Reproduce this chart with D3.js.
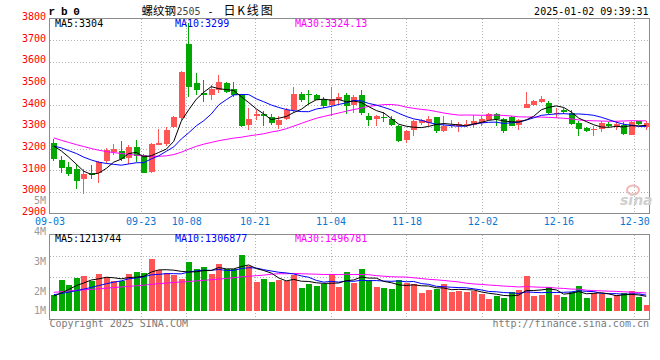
<!DOCTYPE html>
<html><head><meta charset="utf-8">
<script src="https://cdn.jsdelivr.net/npm/d3@7"></script>
<style>
body{margin:0;background:#fff}
svg{display:block}
text{font-family:"DejaVu Sans Mono","Liberation Mono",monospace}
</style>
</head><body>
<svg id="c" width="660" height="360"></svg>
<script>
const dates = ["09-03","09-04","09-05","09-06","09-09","09-10","09-11","09-12","09-13","09-18","09-19","09-20","09-23","09-24","09-25","09-26","09-27","09-30",
"10-08","10-09","10-10","10-11","10-14","10-15","10-16","10-17","10-18","10-21","10-22","10-23","10-24","10-25","10-28","10-29","10-30","10-31",
"11-01","11-04","11-05","11-06","11-07","11-08","11-11","11-12","11-13","11-14","11-15","11-18","11-19","11-20","11-21","11-22","11-25","11-26","11-27","11-28","11-29",
"12-02","12-03","12-04","12-05","12-06","12-09","12-10","12-11","12-12","12-13","12-16","12-17","12-18","12-19","12-20","12-23","12-24","12-25","12-26","12-27","12-30","12-31",
"01-02"];
const open  = [3226,3145,3115,3104,3058,3089,3086,3142,3186,3188,3157,3208,3168,3092,3217,3219,3300,3341,3681,3501,
3455,3445,3471,3504,3474,3449,3310,3348,3361,3345,3307,3336,3379,3451,3452,3448,3428,3403,3422,3448,
3402,3448,3351,3336,3345,3336,3306,3241,3284,3318,3318,3344,3280,3303,3306,3312,3310,3318,3333,3357,
3338,3344,3310,3387,3403,3413,3409,3362,3379,3364,3318,3293,3287,3290,3313,3299,3309,3264,3329,3300];
const high  = [3244,3165,3137,3127,3104,3122,3142,3203,3223,3235,3214,3241,3173,3226,3290,3300,3351,3556,3780,3547,
3517,3494,3540,3509,3507,3452,3387,3379,3371,3360,3348,3387,3486,3460,3471,3451,3437,3486,3455,3455,
3448,3471,3364,3356,3367,3351,3308,3287,3333,3336,3348,3344,3348,3333,3324,3330,3356,3348,3364,3364,
3340,3348,3336,3463,3425,3441,3417,3387,3385,3376,3326,3298,3306,3326,3324,3326,3321,3326,3329,3326];
const low   = [3142,3086,3073,3012,2991,3061,3040,3134,3168,3141,3128,3138,3086,3086,3214,3211,3293,3333,3437,3448,
3413,3422,3458,3455,3440,3300,3284,3333,3306,3310,3288,3331,3364,3413,3402,3422,3387,3352,3399,3360,
3364,3356,3306,3306,3321,3306,3232,3226,3260,3310,3306,3272,3275,3295,3275,3300,3295,3303,3330,3303,
3272,3303,3287,3387,3397,3409,3361,3341,3359,3310,3257,3278,3257,3275,3300,3287,3263,3263,3309,3287];
const close = [3150,3110,3083,3050,3081,3079,3139,3191,3196,3150,3208,3165,3087,3223,3226,3284,3345,3553,3486,3468,
3446,3474,3507,3463,3449,3303,3338,3361,3348,3318,3333,3379,3452,3422,3445,3425,3394,3428,3437,3394,
3440,3364,3330,3348,3339,3310,3234,3283,3325,3330,3338,3280,3303,3309,3315,3315,3325,3338,3357,3336,
3280,3306,3333,3406,3419,3429,3364,3365,3370,3313,3290,3283,3292,3318,3306,3313,3269,3321,3313,3318];
const volume = [1310000,2570000,2150000,2730000,2930000,2540000,3070000,2820000,2510000,2490000,
3070000,3240000,3150000,4330000,3400000,3150000,3040000,2650000,4070000,3480000,
3660000,3070000,3910000,3480000,3480000,4660000,3740000,2400000,2650000,2400000,
2600000,2510000,3010000,1900000,2290000,2060000,2240000,3070000,2010000,3260000,
2370000,3480000,2620000,1980000,1900000,1820000,2570000,2340000,2280000,1500000,
1720000,1840000,2230000,1560000,1640000,1610000,1700000,1420000,970000,1260000,
1060000,1560000,1720000,2930000,1230000,1310000,1980000,1310000,1150000,1560000,
2060000,1060000,1500000,1390000,1060000,1310000,1450000,1640000,1170000,480000];
// moving-average values before enough history is shown
const ma5Head  = [3211,3189,3160,3128];
const ma10Head = [3211,3203,3190,3177,3160,3147,3137,3131,3127];
const ma30Head = [3249,3238,3228,3218,3209,3200,3192,3186,3181,3177,3173,3169,3166,3164,3164,3166,3172,3183,3197,3210,3220,3228,3236,3242,3248,3252,3258,3263,3268];
const vma5Head  = [1230000,1490000,1790000,2110000];
const vma10Head = [1350000,1450000,1560000,1680000,1820000,1960000,2120000,2270000,2400000];
const vma30Head = [1550000,1600000,1660000,1720000,1760000,1800000,1850000,1900000,1950000,2000000,2050000,2100000,2150000,2220000,2280000,2330000,2380000,2420000,2460000,2510000,2560000,2610000,2660000,2720000,2780000,2850000,2900000,2950000,3000000];
const priceTicks = [3800,3700,3600,3500,3400,3300,3200,3100,3000,2900];
const dateTicks = ["09-03","09-23","10-08","10-21","11-04","11-18","12-02","12-16","12-30"];
const volTickLabels = ["4M","3M","2M","1M"];
const volTickValues = [4,3,2,1];
const titleParts = ["螺纹钢", "2505", "-", "日K线图"];
const symbol = "r b 0";
const stamp = "2025-01-02 09:39:31";
const priceMaText = ["MA5:3304","MA10:3299","MA30:3324.13"];
const volMaText = ["MA5:1213744","MA10:1306877","MA30:1496781"];

const N = dates.length;
const RED = "#ff5555", GREEN = "#00a800", GRID = "#b4b4b4", FRAME = "#8c8c8c";
const svg = d3.select("#c");
const L = 49.5, R = 649.5, PT = 18.5, PB = 213.5, VT = 234.5, VB = 319.5, VBASE = 310.7;

const x = d3.scaleBand().domain(d3.range(N)).range([L, R]).paddingInner(0.2).paddingOuter(0.1);
const cx = i => x(i) + x.bandwidth() / 2;
const gx = d3.scaleLinear().domain([0, N - 1]).range([L, R]);
const y = d3.scaleLinear().domain([2900, 3800]).range([PB, PT]);
const yv = d3.scaleLinear().domain([0, 6420000]).range([VBASE, VT]);
const yLab = d3.scaleLinear().domain([4, 1]).range([231, 321]);

function movingAvg(vals, n, head) {
  return vals.map((v, i) => i < n - 1 ? head[i] : d3.mean(vals.slice(i - n + 1, i + 1)));
}
const ma5 = movingAvg(close, 5, ma5Head), ma10 = movingAvg(close, 10, ma10Head), ma30 = movingAvg(close, 30, ma30Head);
const vma5 = movingAvg(volume, 5, vma5Head), vma10 = movingAvg(volume, 10, vma10Head), vma30 = movingAvg(volume, 30, vma30Head);

const tickIdx = dateTicks.map(d => dates.indexOf(d));

// header
svg.append("text").attr("x", 48.5).attr("y", 15).attr("font-size", 11).attr("font-weight", "bold")
  .attr("letter-spacing", -0.4).style("font-family", "'Liberation Mono', monospace").text(symbol);
const tt = svg.append("text").attr("y", 14.5).attr("fill", "#000");
tt.append("tspan").attr("x", 141.5).attr("font-size", 11.5).style("font-family", "'Noto Sans CJK SC', sans-serif").text(titleParts[0]);
tt.append("tspan").attr("x", 176.5).attr("font-size", 10).attr("fill", "#444").style("font-family", "'DejaVu Sans Mono', monospace").text(titleParts[1]);
tt.append("tspan").attr("x", 207.5).attr("font-size", 10).style("font-family", "'DejaVu Sans Mono', monospace").text(titleParts[2]);
tt.append("tspan").attr("x", 223.5).attr("font-size", 12).attr("letter-spacing", 1.8).style("font-family", "'Noto Sans CJK SC', sans-serif").text(titleParts[3]);
svg.append("text").attr("x", 648.5).attr("y", 15).attr("text-anchor", "end").attr("font-size", 10).text(stamp);

// gridlines
const grid = svg.append("g").attr("stroke", GRID).attr("stroke-dasharray", "1,2").attr("shape-rendering", "crispEdges");
priceTicks.filter(t => t !== 3800 && t !== 2900).forEach(t => {
  grid.append("line").attr("x1", L).attr("x2", R).attr("y1", Math.round(y(t)) + 0.5).attr("y2", Math.round(y(t)) + 0.5);
});
tickIdx.filter(i => i > 0).forEach(i => {
  const gxx = Math.round(gx(i)) + 0.5;
  grid.append("line").attr("x1", gxx).attr("x2", gxx).attr("y1", PT).attr("y2", PB);
  grid.append("line").attr("x1", gxx).attr("x2", gxx).attr("y1", VT).attr("y2", VB);
});
[0.25, 0.5].forEach(f => {
  const yy = Math.round(VT + (VB - VT) * f) + 0.5;
  grid.append("line").attr("x1", L).attr("x2", R).attr("y1", yy).attr("y2", yy);
});

// frames
[[PT, PB], [VT, VB]].forEach(([t, b]) => {
  svg.append("rect").attr("x", L).attr("y", t).attr("width", R - L).attr("height", b - t)
    .attr("fill", "none").attr("stroke", FRAME).attr("shape-rendering", "crispEdges");
});

// price axis
const ay = svg.append("g").attr("transform", `translate(${L},0)`)
  .call(d3.axisLeft(y).tickValues(priceTicks).tickSize(0).tickPadding(3.5).tickFormat(d3.format("d")));
ay.select(".domain").remove();
ay.selectAll("text").attr("fill", "#ff0000").attr("font-size", 10).attr("dy", "0.1em")
  .style("font-family", "'DejaVu Sans Mono', monospace");
svg.append("text").attr("x", 46).attr("y", 203.5).attr("text-anchor", "end").attr("font-size", 10)
  .attr("fill", "#999").text("5M");

// date axis
const ax = svg.append("g").attr("transform", `translate(0,${PB})`)
  .call(d3.axisBottom(gx).tickValues(tickIdx).tickSize(0).tickPadding(4.2).tickFormat(i => dates[i]));
ax.select(".domain").remove();
ax.selectAll("text").attr("fill", "#0a78d2").attr("font-size", 10).style("font-family", "'DejaVu Sans Mono', monospace");

// volume labels
svg.append("g").selectAll("text").data(volTickValues).join("text")
  .attr("x", 46).attr("text-anchor", "end").attr("font-size", 10).attr("fill", "#9a9a9a")
  .attr("y", v => Math.min(yLab(v), VBASE) + 3.6).text((v, i) => volTickLabels[i]);

// MA texts
const maColors = ["#000000", "#0000ff", "#ff00ff"];
const maX = [55, 175, 295];
priceMaText.forEach((t, k) => svg.append("text").attr("x", maX[k]).attr("y", 27.3).attr("font-size", 10).attr("fill", maColors[k]).text(t));
volMaText.forEach((t, k) => svg.append("text").attr("x", maX[k]).attr("y", 241.7).attr("font-size", 10).attr("fill", maColors[k]).text(t));

// watermark
const wm = svg.append("g");
wm.append("ellipse").attr("cx", 633).attr("cy", 190).attr("rx", 6).attr("ry", 4.5).attr("fill", "none").attr("stroke", "#f2b8b8").attr("stroke-width", 2);
wm.append("text").attr("x", 620).attr("y", 205).attr("font-size", 14).attr("font-weight", "bold").attr("font-style", "italic")
  .style("font-family", "'DejaVu Sans', sans-serif").attr("fill", "#cfcfcf").text("sina");

// candles
const cg = svg.append("g").attr("shape-rendering", "crispEdges");
d3.range(N).forEach(i => {
  const up = close[i] >= open[i];
  const col = up ? RED : GREEN;
  const xc = Math.round(cx(i));
  cg.append("line").attr("x1", xc + 0.5).attr("x2", xc + 0.5).attr("y1", y(high[i])).attr("y2", y(low[i])).attr("stroke", col);
  const top = y(Math.max(open[i], close[i])), bot = y(Math.min(open[i], close[i]));
  cg.append("rect").attr("x", xc - 2.5).attr("width", 6).attr("y", top).attr("height", Math.max(1, bot - top)).attr("fill", col);
});

// volume bars
svg.append("g").attr("shape-rendering", "crispEdges").selectAll("rect").data(volume).join("rect")
  .attr("x", (v, i) => Math.round(cx(i)) - 2.5).attr("width", 6)
  .attr("y", v => yv(v)).attr("height", v => VBASE - yv(v))
  .attr("fill", (v, i) => close[i] >= open[i] ? RED : GREEN);

// MA lines
const line = d3.line().x((d, i) => cx(i) + 0.5);
[[ma30, "#ff00ff"], [ma10, "#0000ff"], [ma5, "#000000"]].forEach(([arr, c]) => {
  svg.append("path").attr("d", line.y(d => y(d))(arr)).attr("fill", "none").attr("stroke", c).attr("stroke-width", 1);
});
[[vma30, "#ff00ff"], [vma10, "#0000ff"], [vma5, "#000000"]].forEach(([arr, c]) => {
  svg.append("path").attr("d", line.y(d => yv(d))(arr)).attr("fill", "none").attr("stroke", c).attr("stroke-width", 1);
});

// footer
svg.append("text").attr("x", 49.5).attr("y", 327).attr("font-size", 10).attr("fill", "#7a7a7a").text("Copyright 2025 SINA.COM");
svg.append("text").attr("x", 649).attr("y", 327).attr("text-anchor", "end").attr("font-size", 10).attr("fill", "#7a7a7a").text("http://finance.sina.com.cn");
</script>
</body></html>
